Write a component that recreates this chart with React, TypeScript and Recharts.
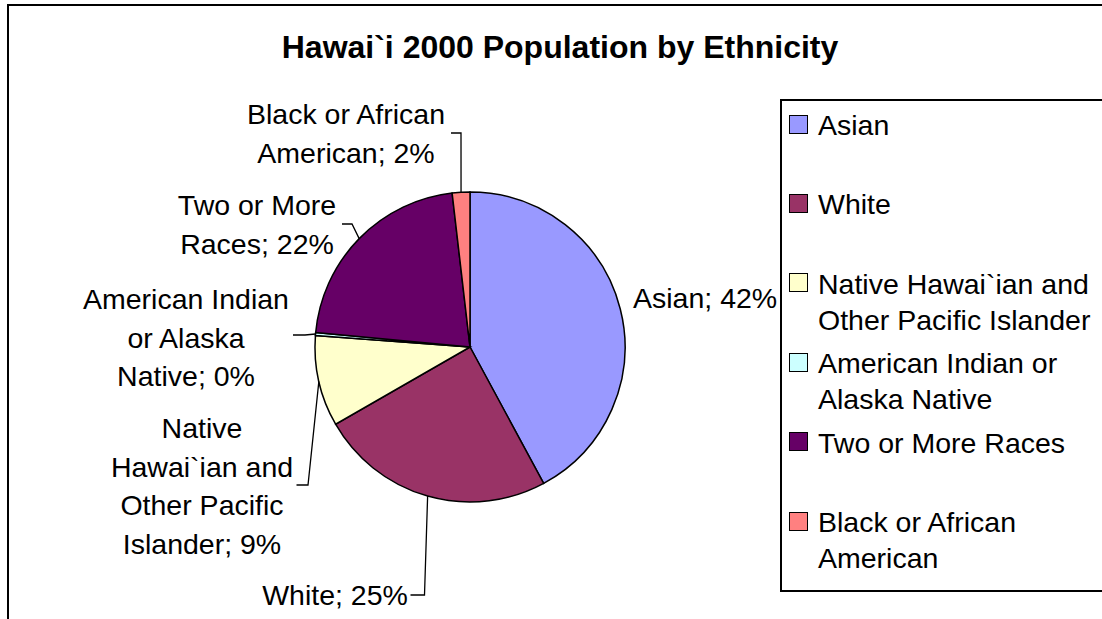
import { PieChart, Pie, Cell, Legend } from 'recharts'

// Hawai`i census 2000, persons by race
const categories = [
  'Asian',
  'White',
  'Native Hawai`ian and Other Pacific Islander',
  'American Indian or Alaska Native',
  'Two or More Races',
  'Black or African American',
]
const population = [503868, 294102, 113539, 3535, 259343, 22003]
const colors = ['#9999FF', '#993366', '#FFFFCC', '#CCFFFF', '#660066', '#FF8080']

const data = categories.map((name, i) => ({ name, value: population[i] }))

const FONT = '"Liberation Sans", Arial, sans-serif'
const LABEL_SIZE = 28.5
const LABEL_STEP = 38.5

// label placement relative to the pie centre; leader = [stub start x, stub end x, y]
const labelLayout = [
  { dx: 163, dy: -39, anchor: 'start', wrap: 40, leader: null },
  { dx: -135, dy: 258, anchor: 'middle', wrap: 40, leader: [-59.5, -45.5, 248] },
  { dx: -268, dy: 91, anchor: 'middle', wrap: 13, leader: [-173.5, -162, 138] },
  { dx: -284, dy: -38, anchor: 'middle', wrap: 15, leader: [-177, -165, -12] },
  { dx: -213, dy: -132, anchor: 'middle', wrap: 11, leader: [-128, -118, -123] },
  { dx: -124, dy: -223, anchor: 'middle', wrap: 16, leader: [-19, -9, -214] },
]

function wrapText(text: string, max: number) {
  const words = text.split(' ')
  const lines: string[] = []
  let cur = ''
  words.forEach((w) => {
    const next = cur ? cur + ' ' + w : w
    if (next.length > max && cur) {
      lines.push(cur)
      cur = w
    } else {
      cur = next
    }
  })
  if (cur) lines.push(cur)
  return lines
}

const renderLabel = (props: any) => {
  const { cx, cy, midAngle, outerRadius, percent, name, index } = props
  const pos = labelLayout[index]
  const rad = Math.PI / 180
  const ax = cx + outerRadius * Math.cos(-midAngle * rad)
  const ay = cy + outerRadius * Math.sin(-midAngle * rad)
  const lines = wrapText(`${name}; ${Math.round(percent * 100)}%`, pos.wrap)
  const tx = cx + pos.dx
  const ty = cy + pos.dy
  return (
    <g key={`label-${index}`}>
      {pos.leader && (
        <path
          d={`M${cx + pos.leader[0]},${cy + pos.leader[2]}L${cx + pos.leader[1]},${cy + pos.leader[2]}L${ax},${ay}`}
          stroke="#000"
          strokeWidth={1.3}
          fill="none"
        />
      )}
      <text x={tx} y={ty} textAnchor={pos.anchor as any} fontSize={LABEL_SIZE} fontFamily={FONT} fill="#000">
        {lines.map((l, i) => (
          <tspan key={i} x={tx} dy={i === 0 ? 0 : LABEL_STEP}>
            {l}
          </tspan>
        ))}
      </text>
    </g>
  )
}

const renderLegend = (props: any) => {
  // keep the series order, not the alphabetical one
  const payload = [...(props.payload || [])].sort(
    (a: any, b: any) => categories.indexOf(a.value) - categories.indexOf(b.value),
  )
  return (
    <div
      style={{
        position: 'relative',
        width: 340,
        height: 493,
        boxSizing: 'border-box',
        border: '2px solid #000',
        background: '#fff',
        fontFamily: FONT,
        fontSize: LABEL_SIZE,
        color: '#000',
      }}
    >
      {payload.map((entry: any, i: number) => (
        <div key={i} style={{ position: 'absolute', left: 0, top: 6 + i * 79.4, width: 330 }}>
          <span
            style={{
              position: 'absolute',
              left: 7,
              top: 7.5,
              width: 19,
              height: 19,
              boxSizing: 'border-box',
              border: '1.5px solid #000',
              background: colors[categories.indexOf(entry.value)],
            }}
          />
          <div style={{ position: 'absolute', left: 36, top: 0, width: 290, lineHeight: '36px' }}>{entry.value}</div>
        </div>
      ))}
    </div>
  )
}

export default function App() {
  return (
    <div style={{ position: 'absolute', left: 0, top: 0, width: 1102, height: 619, overflow: 'hidden', background: '#fff' }}>
      <div
        style={{
          position: 'absolute',
          left: 7,
          top: 4,
          width: 1200,
          height: 700,
          border: '2px solid #000',
        }}
      />
      <div
        style={{
          position: 'absolute',
          left: 0,
          top: 31,
          width: 1120,
          textAlign: 'center',
          fontFamily: FONT,
          fontWeight: 'bold',
          fontSize: 32,
          lineHeight: '32px',
          color: '#000',
        }}
      >
        Hawai`i 2000 Population by Ethnicity
      </div>
      <div style={{ position: 'absolute', left: 0, top: 0 }}>
        <PieChart width={1102} height={619} margin={{ top: 0, right: 0, bottom: 0, left: 0 }}>
          <Pie
            data={data}
            dataKey="value"
            nameKey="name"
            cx={470}
            cy={347}
            outerRadius={155}
            startAngle={90}
            endAngle={-270}
            label={renderLabel}
            labelLine={false}
            isAnimationActive={false}
          >
            {data.map((d, i) => (
              <Cell key={d.name} fill={colors[i]} stroke="#000" strokeWidth={1.5} />
            ))}
          </Pie>
          <Legend
            layout="vertical"
            align="right"
            verticalAlign="top"
            width={340}
            height={493}
            content={renderLegend}
            wrapperStyle={{ left: 780, top: 99, width: 340, height: 493 }}
          />
        </PieChart>
      </div>
    </div>
  )
}
